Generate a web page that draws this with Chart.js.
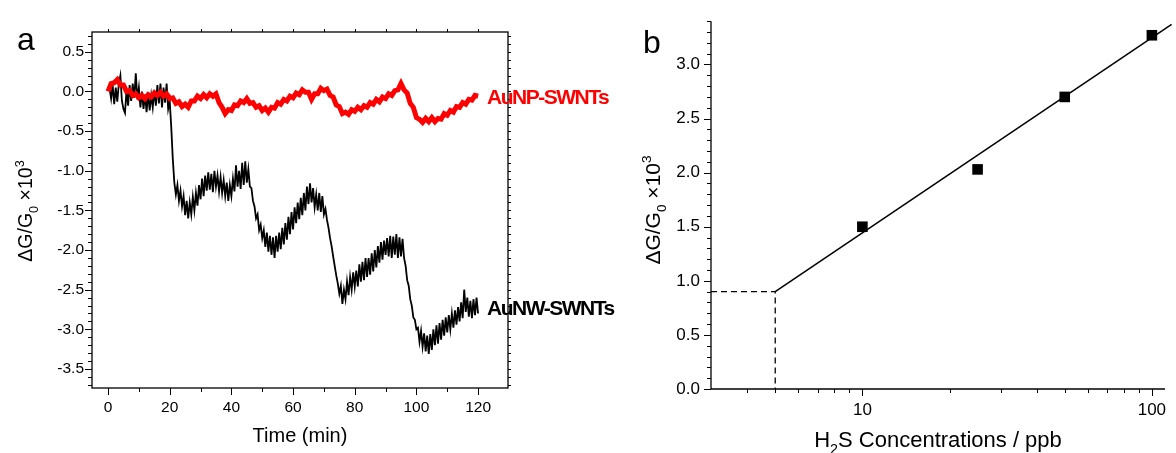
<!DOCTYPE html>
<html>
<head>
<meta charset="utf-8">
<script src="https://cdn.jsdelivr.net/npm/chart.js@4"></script>
<style>
    html, body { margin: 0; padding: 0; background: #fff; }
    #wrap { position: relative; width: 1176px; height: 453px; overflow: hidden; }
    canvas { position: absolute; top: 0; }
    #chartA { left: 0; }
    #chartB { left: 620px; }
</style>
</head>
<body>
<div id="wrap">
    <canvas id="chartA" width="620" height="453"></canvas>
    <canvas id="chartB" width="556" height="453"></canvas>
</div>
<script>
// ---- panel a : response vs time ----
const nwStart = 0.5
const nwStep = 0.5
const auNW = [
    0.04, -0.09, 0.08, -0.16, 0.05, -0.13, 0.1, 0.2, -0.12, -0.22,
    -0.27, 0.02, -0.18, 0.08, -0.12, 0.1, -0.08, 0.23, -0.1, 0.05,
    -0.2, 0.0, -0.22, -0.04, -0.26, -0.02, -0.24, -0.05, -0.2, 0.02,
    -0.18, 0.08, -0.15, 0.1, -0.2, 0.05, -0.14, 0.1, -0.22, -0.12,
    -0.45, -0.85, -1.15, -1.3, -1.18, -1.38, -1.25, -1.45, -1.32, -1.56,
    -1.38, -1.6, -1.4, -1.55, -1.33, -1.5, -1.28, -1.44, -1.18, -1.36,
    -1.1, -1.32, -1.06, -1.25, -1.02, -1.24, -1.04, -1.27, -1.0, -1.2,
    -1.06, -1.26, -1.08, -1.28, -1.12, -1.32, -1.15, -1.38, -1.18, -1.32,
    -1.1, -1.26, -0.93, -1.2, -1.0, -1.23, -0.9, -1.18, -0.88, -1.15,
    -0.98, -1.2, -1.22, -1.38, -1.45, -1.6, -1.55, -1.75, -1.68, -1.85,
    -1.75, -1.96, -1.78, -2.02, -1.82, -2.06, -1.84, -2.1, -1.82, -2.02,
    -1.78, -1.99, -1.72, -1.93, -1.66, -1.87, -1.58, -1.8, -1.52, -1.74,
    -1.46, -1.66, -1.4, -1.61, -1.34, -1.56, -1.28, -1.5, -1.2, -1.42,
    -1.16, -1.4, -1.22, -1.46, -1.3, -1.5, -1.28, -1.52, -1.32, -1.55,
    -1.48, -1.62, -1.72, -1.85, -1.95, -2.08, -2.2, -2.32, -2.42, -2.55,
    -2.45, -2.68, -2.5, -2.62, -2.4, -2.57, -2.34, -2.5, -2.28, -2.46,
    -2.26, -2.46, -2.18, -2.4, -2.15, -2.38, -2.1, -2.34, -2.1, -2.31,
    -2.04, -2.27, -2.0, -2.22, -1.95, -2.16, -1.9, -2.12, -1.88, -2.06,
    -1.85, -2.08, -1.82, -2.1, -1.83, -2.06, -1.8, -2.1, -1.84, -2.08,
    -1.86, -2.1, -2.2, -2.38, -2.45, -2.62, -2.7, -2.85, -2.88, -3.0,
    -2.98, -3.16, -3.02, -3.22, -3.05, -3.28, -3.08, -3.31, -3.06, -3.26,
    -3.0, -3.2, -2.95, -3.18, -2.92, -3.13, -2.88, -3.08, -2.85, -3.04,
    -2.82, -3.0, -2.8, -2.98, -2.76, -2.94, -2.72, -2.9, -2.66, -2.86,
    -2.5, -2.78, -2.6, -2.84, -2.64, -2.86, -2.62, -2.82, -2.6, -2.8
]
const npStart = 0
const npStep = 1
const auNP = [
    0.0, 0.1, 0.11, 0.15, 0.08, 0.08, 0.0, 0.01, -0.05, -0.03,
    -0.08, -0.05, -0.09, -0.04, -0.07, -0.02, -0.05, -0.01, -0.06, -0.03,
    -0.09, -0.08, -0.15, -0.13, -0.19, -0.16, -0.2, -0.12, -0.12, -0.06,
    -0.09, -0.04, -0.08, -0.03, -0.06, -0.03, -0.14, -0.2, -0.28, -0.23,
    -0.24, -0.17, -0.18, -0.12, -0.14, -0.09, -0.15, -0.14, -0.2, -0.18,
    -0.24, -0.21, -0.26, -0.2, -0.21, -0.14, -0.16, -0.1, -0.12, -0.06,
    -0.08, -0.02, -0.04, 0.02, -0.01, -0.01, -0.1, -0.03, -0.03, 0.04,
    0.01, 0.03, -0.05, -0.07, -0.17, -0.19, -0.28, -0.26, -0.29, -0.23,
    -0.25, -0.2, -0.23, -0.18, -0.2, -0.14, -0.16, -0.1, -0.13, -0.07,
    -0.09, -0.03, -0.05, 0.01, 0.02, 0.1, 0.02, -0.02, -0.15, -0.2,
    -0.33, -0.35, -0.39, -0.34, -0.38, -0.33, -0.38, -0.34, -0.35, -0.28,
    -0.3, -0.24, -0.26, -0.19, -0.2, -0.14, -0.16, -0.1, -0.11, -0.05,
    -0.06
]
const seriesNames = ['AuNP-SWNTs', 'AuNW-SWNTs']
const seriesColors = ['#ff0000', '#000000']
const seriesLabelLevels = [-0.09, -2.74]

// ---- panel b : response vs concentration ----
const concPpb = [10, 25, 50, 100]
const responseB = [1.5, 2.03, 2.7, 3.27]
const fitConc = [5, 117]
const fitResp = [0.9, 3.37]
const limitConc = [3, 5, 5]
const limitResp = [0.9, 0.9, 0]

const fontName = "'Liberation Sans', Arial, sans-serif"

function toPoints(xs, ys) {
    return ys.map((v, i) => ({ x: xs[i], y: v }))
}
function timePoints(values, start, step) {
    return values.map((v, i) => ({ x: start + i * step, y: v }))
}

function tick(ctx, x1, y1, x2, y2) {
    ctx.beginPath()
    ctx.moveTo(x1, y1)
    ctx.lineTo(x2, y2)
    ctx.stroke()
}

// text with sub/superscripts; parts = [[text, kind]] kind: 0 normal, 1 sub, 2 sup
function richText(ctx, parts, size, x, y, rotated) {
    const small = size * 0.65
    ctx.save()
    ctx.translate(x, y)
    if (rotated) ctx.rotate(-Math.PI / 2)
    ctx.textBaseline = 'alphabetic'
    ctx.textAlign = 'left'
    let total = 0
    parts.forEach(p => {
        ctx.font = (p[1] ? small : size) + 'px ' + fontName
        total += ctx.measureText(p[0]).width
    })
    let cx = -total / 2
    parts.forEach(p => {
        ctx.font = (p[1] ? small : size) + 'px ' + fontName
        const dy = p[1] === 1 ? size * 0.3 : p[1] === 2 ? -size * 0.42 : 0
        ctx.fillText(p[0], cx, dy)
        cx += ctx.measureText(p[0]).width
    })
    ctx.restore()
}

const yTitleParts = [['\u0394G/G', 0], ['0', 1], [' \u00d710', 0], ['3', 2]]

const frameA = {
    id: 'frameA',
    afterDraw(chart) {
        const ctx = chart.ctx
        const a = chart.chartArea
        const xs = chart.scales.x
        const ys = chart.scales.y
        ctx.save()
        ctx.strokeStyle = '#000'
        ctx.lineWidth = 1.3
        ctx.strokeRect(a.left, a.top, a.right - a.left, a.bottom - a.top)
        ctx.lineWidth = 1
        for (let t = 0; t <= 120; t += 10) {
            const px = Math.round(xs.getPixelForValue(t)) + 0.5
            tick(ctx, px, a.bottom, px, a.bottom + (t % 20 === 0 ? 7 : 4))
            tick(ctx, px, a.top, px, a.top - 3)
        }
        for (let k = -37; k <= 7; k++) {
            const py = Math.round(ys.getPixelForValue(k / 10)) + 0.5
            tick(ctx, a.left, py, a.left - (k % 5 === 0 ? 7 : 4), py)
            tick(ctx, a.right, py, a.right + 3, py)
        }
        // series labels
        ctx.font = 'bold 21px ' + fontName
        ctx.letterSpacing = '-1.5px'
        ctx.textBaseline = 'middle'
        ctx.textAlign = 'left'
        seriesNames.forEach((name, i) => {
            ctx.fillStyle = seriesColors[i]
            ctx.fillText(name, xs.getPixelForValue(120) + 9, ys.getPixelForValue(seriesLabelLevels[i]))
        })
        ctx.letterSpacing = '0px'
        ctx.fillStyle = '#000'
        ctx.font = '32px ' + fontName
        ctx.textBaseline = 'alphabetic'
        ctx.fillText('a', 17, 50)
        richText(ctx, [['Time (min)', 0]], 20, (a.left + a.right) / 2, 442, false)
        richText(ctx, yTitleParts, 19.5, 32, (a.top + a.bottom) / 2 + 1, true)
        ctx.restore()
    }
}

const frameB = {
    id: 'frameB',
    afterDraw(chart) {
        const ctx = chart.ctx
        const a = chart.chartArea
        const xs = chart.scales.x
        const ys = chart.scales.y
        ctx.save()
        ctx.strokeStyle = '#000'
        ctx.lineWidth = 1.3
        tick(ctx, a.left, a.top, a.left, a.bottom)
        tick(ctx, a.left, a.bottom, a.right, a.bottom)
        ctx.lineWidth = 1
        const logTicks = [4, 5, 6, 7, 8, 9, 10, 20, 30, 40, 50, 60, 70, 80, 90, 100]
        logTicks.forEach(v => {
            const px = Math.round(xs.getPixelForValue(v)) + 0.5
            tick(ctx, px, a.bottom, px, a.bottom + (v === 10 || v === 100 ? 7 : 4))
        })
        for (let k = 0; k <= 34; k++) {
            const py = Math.round(ys.getPixelForValue(k / 10)) + 0.5
            tick(ctx, a.left, py, a.left - (k % 5 === 0 ? 7 : 4), py)
        }
        ctx.fillStyle = '#000'
        ctx.font = '32px ' + fontName
        ctx.textBaseline = 'alphabetic'
        ctx.textAlign = 'left'
        ctx.fillText('b', 23, 53)
        richText(ctx, [['H', 0], ['2', 1], ['S Concentrations / ppb', 0]], 22, (a.left + a.right) / 2, 447, false)
        richText(ctx, yTitleParts, 21, 40, 210, true)
        ctx.restore()
    }
}

const cfgA = {
    type: 'line',
    data: {
        datasets: [{
            label: seriesNames[0],
            data: timePoints(auNP, npStart, npStep),
            borderColor: seriesColors[0],
            borderWidth: 5,
            pointRadius: 0,
            tension: 0,
            order: 0
        }, {
            label: seriesNames[1],
            data: timePoints(auNW, nwStart, nwStep),
            borderColor: seriesColors[1],
            borderWidth: 1.8,
            pointRadius: 0,
            tension: 0,
            order: 1
        }]
    },
    options: {
        responsive: false,
        animation: false,
        devicePixelRatio: 1,
        layout: { padding: { top: 32, right: 112, left: 0, bottom: 0 } },
        scales: {
            x: {
                type: 'linear',
                min: -5.2,
                max: 129.7,
                afterFit: (s) => { s.height = 65 },
                grid: { display: false, drawTicks: false },
                border: { display: false },
                ticks: {
                    stepSize: 20,
                    includeBounds: false,
                    padding: 10,
                    color: '#000',
                    maxRotation: 0,
                    font: { family: fontName, size: 15.5 }
                }
            },
            y: {
                type: 'linear',
                min: -3.74,
                max: 0.75,
                afterFit: (s) => { s.width = 92 },
                grid: { display: false, drawTicks: false },
                border: { display: false },
                ticks: {
                    stepSize: 0.5,
                    includeBounds: false,
                    padding: 8,
                    color: '#000',
                    font: { family: fontName, size: 15.5 },
                    callback: (v) => v.toFixed(1)
                }
            }
        },
        plugins: {
            legend: { display: false },
            tooltip: { enabled: false }
        }
    },
    plugins: [frameA]
}

const cfgB = {
    type: 'line',
    data: {
        datasets: [{
            data: toPoints(concPpb, responseB),
            showLine: false,
            pointStyle: 'rect',
            pointRadius: 7.5,
            pointBackgroundColor: '#000',
            pointBorderWidth: 0,
            clip: false
        }, {
            data: toPoints(fitConc, fitResp),
            borderColor: '#000',
            borderWidth: 1.5,
            pointRadius: 0,
            clip: false
        }, {
            data: toPoints(limitConc, limitResp),
            borderColor: '#000',
            borderWidth: 1.3,
            borderDash: [6, 4],
            pointRadius: 0
        }]
    },
    options: {
        responsive: false,
        animation: false,
        devicePixelRatio: 1,
        layout: { padding: { top: 19, right: 9, left: 0, bottom: 0 } },
        scales: {
            x: {
                type: 'logarithmic',
                min: 3,
                max: 111,
                afterFit: (s) => { s.height = 64 },
                grid: { display: false, drawTicks: false },
                border: { display: false },
                ticks: {
                    autoSkip: false,
                    maxRotation: 0,
                    padding: 11,
                    color: '#000',
                    font: { family: fontName, size: 17 },
                    callback: (v) => (v === 10 || v === 100) ? String(v) : ''
                }
            },
            y: {
                type: 'linear',
                min: 0,
                max: 3.4,
                afterFit: (s) => { s.width = 91 },
                grid: { display: false, drawTicks: false },
                border: { display: false },
                ticks: {
                    stepSize: 0.5,
                    includeBounds: false,
                    padding: 11,
                    color: '#000',
                    font: { family: fontName, size: 17 },
                    callback: (v) => v.toFixed(1)
                }
            }
        },
        plugins: {
            legend: { display: false },
            tooltip: { enabled: false }
        }
    },
    plugins: [frameB]
}

// eslint-disable-next-line no-undef
const chartA = new Chart(document.getElementById('chartA').getContext('2d'), cfgA)
// eslint-disable-next-line no-undef
const chartB = new Chart(document.getElementById('chartB').getContext('2d'), cfgB)
</script>
</body>
</html>
